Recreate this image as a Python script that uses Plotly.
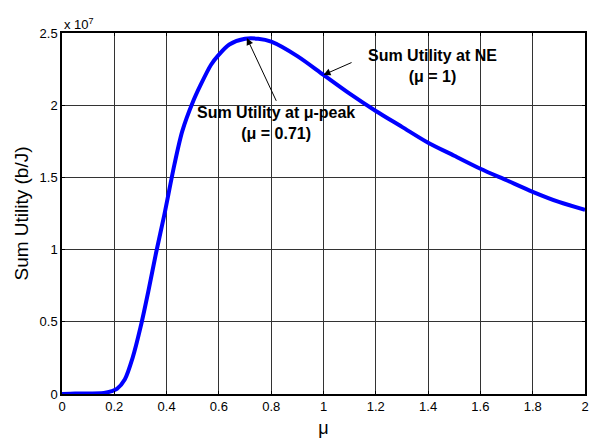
import plotly.graph_objects as go

mu = [0, 0.05, 0.1, 0.15, 0.17, 0.19, 0.21, 0.24, 0.27, 0.3, 0.33, 0.36, 0.39, 0.43,
      0.46, 0.5, 0.53, 0.57, 0.6, 0.64, 0.7, 0.75, 0.8, 0.9, 1.0, 1.1, 1.2, 1.3, 1.4,
      1.5, 1.6, 1.7, 1.8, 1.9, 2.0]
sum_utility_e7 = [0, 0.004, 0.004, 0.005, 0.01, 0.02, 0.035, 0.10, 0.25, 0.46, 0.71,
                  0.98, 1.23, 1.59, 1.82, 2.02, 2.14, 2.28, 2.35, 2.42, 2.46, 2.46,
                  2.44, 2.34, 2.21, 2.08, 1.96, 1.85, 1.74, 1.65, 1.56, 1.48, 1.40,
                  1.33, 1.275]
sum_utility = [v * 1e7 for v in sum_utility_e7]

x_ticks = [0, 0.2, 0.4, 0.6, 0.8, 1, 1.2, 1.4, 1.6, 1.8, 2]
x_ticktext = ["0", "0.2", "0.4", "0.6", "0.8", "1", "1.2", "1.4", "1.6", "1.8", "2"]
y_ticks_e7 = [0, 0.5, 1, 1.5, 2, 2.5]
y_ticktext = ["0", "0.5", "1", "1.5", "2", "2.5"]
y_ticks = [v * 1e7 for v in y_ticks_e7]

peak_mu, peak_val = 0.707, 2.465e7
ne_mu, ne_val = 1.0, 2.21e7

FONT = "Arial, Liberation Sans, sans-serif"

fig = go.Figure()
fig.add_trace(go.Scatter(x=mu, y=sum_utility, mode="lines",
                         line=dict(color="#0000FF", width=4, shape="spline", smoothing=0.8),
                         showlegend=False, hoverinfo="skip"))

axis_common = dict(showline=True, linecolor="black", linewidth=1.5, mirror="ticks",
                   ticks="inside", ticklen=3, tickcolor="black", automargin=False,
                   showgrid=True, gridcolor="#333333", gridwidth=1, zeroline=False,
                   tickfont=dict(family=FONT, size=13, color="black"))

fig.update_xaxes(range=[0, 2], tickvals=x_ticks, ticktext=x_ticktext,
                 title=dict(text="μ", font=dict(family=FONT, size=18, color="black"), standoff=8),
                 **axis_common)
fig.update_yaxes(range=[0, 2.5e7], tickvals=y_ticks, ticktext=y_ticktext,
                 title=dict(text="Sum Utility (b/J)", font=dict(family=FONT, size=19, color="black"), standoff=6),
                 **axis_common)

annots = [
    dict(x=0.82, y=1.875e7, xref="x", yref="y", showarrow=False,
         text="<b>Sum Utility at μ-peak<br>(μ = 0.71)</b>",
         font=dict(family=FONT, size=16, color="black"), align="center"),
    dict(x=1.415, y=2.27e7, xref="x", yref="y", showarrow=False,
         text="<b>Sum Utility at NE<br>(μ = 1)</b>",
         font=dict(family=FONT, size=16, color="black"), align="center"),
    dict(x=peak_mu, y=peak_val, ax=0.822, ay=2.02e7, xref="x", yref="y", axref="x", ayref="y",
         text="", showarrow=True, arrowhead=2, arrowsize=1.4, arrowwidth=1, arrowcolor="black"),
    dict(x=ne_mu, y=ne_val, ax=1.113, ay=2.30e7, xref="x", yref="y", axref="x", ayref="y",
         text="", showarrow=True, arrowhead=2, arrowsize=1.4, arrowwidth=1, arrowcolor="black"),
    dict(x=0, y=1, xref="paper", yref="paper", xanchor="left", yanchor="bottom", yshift=-1,
         showarrow=False, text="x 10<sup>7</sup>",
         font=dict(family=FONT, size=13, color="black")),
]
fig.update_layout(annotations=annots,
                  width=589, height=441,
                  margin=dict(l=62, r=4, t=33, b=47, autoexpand=False),
                  paper_bgcolor="white", plot_bgcolor="white",
                  font=dict(family=FONT, color="black"))

fig.write_html("out.html", config={"displayModeBar": False},
               post_script="document.body.style.margin='0';document.body.style.overflow='hidden';")
